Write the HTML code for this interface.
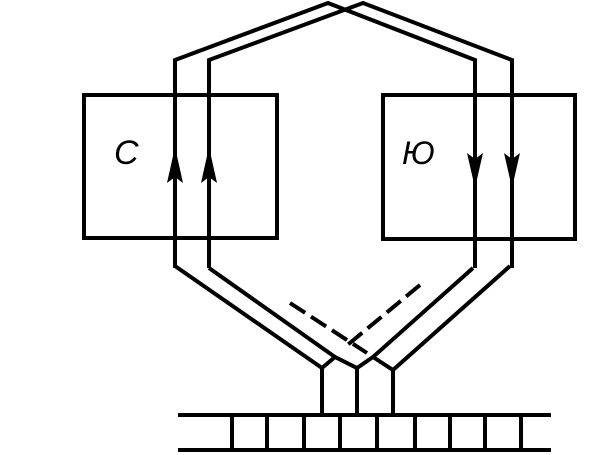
<!DOCTYPE html>
<html><head><meta charset="utf-8"><style>html,body{margin:0;padding:0;background:#fff}svg{display:block}</style></head>
<body>
<svg width="615" height="455" viewBox="0 0 615 455" xmlns="http://www.w3.org/2000/svg">
<g fill="none" stroke="#000" stroke-width="4" stroke-linejoin="miter">
<rect x="84" y="95" width="193" height="143"/>
<rect x="383" y="95" width="192" height="144"/>
<polyline points="175,268 175,60 328,3 475,60 475,268"/>
<polyline points="209,268 209,60 363,3 512,60 512,268"/>
<polyline points="175,266 322,368 335,357 357,368 373,357 393,370 510,266"/>
<line x1="209" y1="268" x2="335" y2="357"/>
<line x1="473" y1="268" x2="373" y2="357"/>
<line x1="322" y1="368" x2="322" y2="416"/>
<line x1="357" y1="368" x2="357" y2="416"/>
<line x1="393" y1="370" x2="393" y2="416"/>
<line x1="290" y1="303" x2="367" y2="353" stroke-dasharray="18,7"/>
<line x1="420" y1="285" x2="345" y2="347" stroke-dasharray="18,7"/>
<line x1="178" y1="415" x2="551" y2="415"/>
<line x1="178" y1="450" x2="551" y2="450"/>
<line x1="232" y1="415" x2="232" y2="450"/>
<line x1="267" y1="415" x2="267" y2="450"/>
<line x1="304" y1="415" x2="304" y2="450"/>
<line x1="340" y1="415" x2="340" y2="450"/>
<line x1="377" y1="415" x2="377" y2="450"/>
<line x1="415" y1="415" x2="415" y2="450"/>
<line x1="450" y1="415" x2="450" y2="450"/>
<line x1="485" y1="415" x2="485" y2="450"/>
<line x1="521" y1="415" x2="521" y2="450"/>
</g>
<g fill="#000">
<polygon points="175,147 167,183 175,177 183,183"/>
<polygon points="209,147 201,183 209,177 217,183"/>
<polygon points="475,188 467,153 475,159 483,153"/>
<polygon points="512,188 504,153 512,159 520,153"/>
</g>
<text x="114" y="164" font-family="Liberation Sans, sans-serif" font-style="italic" font-size="34">С</text>
<text x="402" y="164" font-family="Liberation Sans, sans-serif" font-style="italic" font-size="32">Ю</text>
</svg>
</body></html>
